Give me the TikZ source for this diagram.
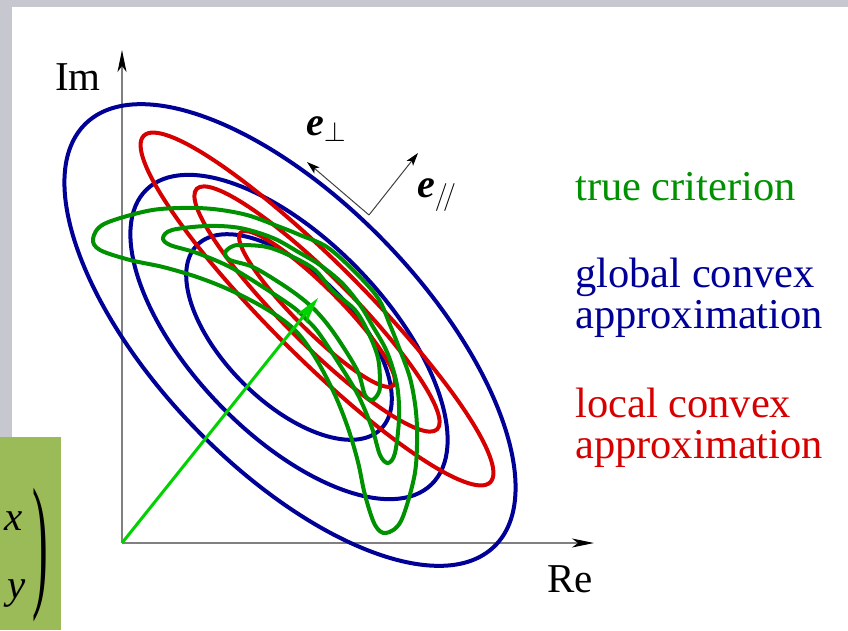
\RequirePackage{fix-cm}
\documentclass[tikz,border=0pt]{standalone}
\usepackage{graphicx}
\usepackage{fontspec}
\setmainfont{Liberation Serif}
\usetikzlibrary{arrows.meta,positioning}
\definecolor{slidegray}{RGB}{198,199,207}
\definecolor{boxgreen}{RGB}{155,187,89}
\definecolor{critgreen}{RGB}{0,145,0}
\definecolor{globblue}{RGB}{0,0,150}
\definecolor{locred}{RGB}{215,0,0}
\definecolor{vecgreen}{RGB}{0,210,0}
\tikzset{
  axis line/.style  = {draw=gray, line width=1.4pt,
                       -{Stealth[length=22pt,width=9pt,inset=6pt,black]}},
  basis arrow/.style= {draw=black!75, line width=1pt,
                       -{Stealth[length=13pt,width=8pt,inset=3pt,black]}},
  vec arrow/.style  = {draw=vecgreen, line width=3pt,
                       -{Stealth[length=26pt,width=13pt,inset=7pt]}},
  crit curve/.style = {draw=critgreen, line width=4pt},
  glob curve/.style = {draw=globblue, line width=4pt},
  loc curve/.style  = {draw=locred, line width=4pt},
  axis label/.style = {font=\fontsize{41}{41}\selectfont, inner sep=0pt},
  basis label/.style= {font=\fontsize{40}{40}\selectfont, inner sep=0pt},
  legend/.style     = {font=\fontsize{42.5}{41}\selectfont, inner sep=0pt,
                       align=left, anchor=base west},
  vec entry/.style  = {font=\fontsize{41}{41}\selectfont, inner sep=0pt},
}

\begin{document}
\begin{tikzpicture}[x=1pt,y=-1pt]
  \useasboundingbox (0,0) rectangle (848,630);

  % ---- slide background --------------------------------------------------
  \fill[slidegray] (0,0) rectangle (848,7);
  \fill[slidegray] (0,0) rectangle (12,437);
  \fill[boxgreen] (0,437) rectangle (61,630);
  \node[vec entry, anchor=base east] (vx) at (23,530) {\textit{x}};
  \node[vec entry, anchor=base east] (vy) at (26,598) {\textit{y}};
  \node[vec entry] (vparen) at (40,555) {\scalebox{1.15}[3.6]{)}};

  % ---- axes --------------------------------------------------------------
  \coordinate (O)     at (122,543);
  \coordinate (imtip) at (122,50);
  \coordinate (retip) at (594,543);
  \draw[axis line] (O) -- (imtip);
  \draw[axis line] (O) -- (retip);
  \node[axis label, anchor=base east] (imlbl) at (101,90) {Im};
  \node[axis label, anchor=base west] (relbl) at (547,592) {Re};

  % ---- global convex approximation ---------------------------------------
  \draw[glob curve] (290,335) ellipse [x radius=294, y radius=133, rotate=-46];
  \draw[glob curve] (289,337) ellipse [x radius=205, y radius=97,  rotate=-46];
  \draw[glob curve] (289,337) ellipse [x radius=130, y radius=65,  rotate=-45];

  % ---- local convex approximation ----------------------------------------
  \draw[loc curve] (317,309) ellipse [x radius=245, y radius=47, rotate=-45];
  \draw[loc curve] (317,309) ellipse [x radius=170, y radius=34, rotate=-45];
  \draw[loc curve] (317,309) ellipse [x radius=108, y radius=22, rotate=-45];

  % ---- true criterion ----------------------------------------------------
  \draw[crit curve] plot[smooth cycle, tension=0.55] coordinates {
    (104,224) (147,211) (180,208) (213,209) (247,215) (280,227) (300,235)
    (327,247) (354,271) (378,298) (390,325) (398,345) (410,378) (416,412)
    (417,445) (414,478) (401,521) (386,533) (375,525) (365,495) (358,462)
    (348,428) (335,395) (318,362) (302,338) (287,323) (263,307) (230,290)
    (197,277) (163,267) (130,260) (100,250) (93,239)};
  \draw[crit curve] plot[smooth cycle, tension=0.55] coordinates {
    (172,230) (207,226) (240,228) (273,238) (300,253) (320,265) (342,283)
    (360,305) (372,325) (387,352) (397,385) (399,418) (395,453) (388,463)
    (380,455) (372,428) (358,395) (338,362) (318,332) (306,319) (293,307)
    (263,287) (230,267) (197,253) (170,245) (163,238)};
  \draw[crit curve] plot[smooth cycle, tension=0.55] coordinates {
    (231,247) (240,245) (267,247) (293,257) (315,270) (333,291) (355,310)
    (368,332) (378,358) (380,385) (378,394) (372,400) (365,395) (358,372)
    (342,345) (328,325) (315,310) (300,297) (280,283) (253,267) (230,260)
    (225,253)};

  % ---- state vector ------------------------------------------------------
  \coordinate (vtip) at (318,298);
  \draw[vec arrow] (O) -- (vtip);

  % ---- principal directions ----------------------------------------------
  \coordinate (ebase)  at (369,215);
  \coordinate (eperp)  at (307,162);
  \coordinate (epar)   at (418,153);
  \draw[basis arrow] (ebase) -- (eperp);
  \draw[basis arrow] (ebase) -- (epar);
  \node[basis label, anchor=base west] (eperplbl) at (306,135)
    {\textbf{\textit{e}}$_{\perp}$};
  \node[basis label, anchor=base west] (eparlbl) at (417,197)
    {\textbf{\textit{e}}$_{/\!/}$};

  % ---- legend ------------------------------------------------------------
  \node[legend, text=critgreen] (critlbl) at (575,200) {true criterion};
  \node[legend, text=globblue]  (globlbl) at (575,328) {global convex\\approximation};
  \node[legend, text=locred]    (loclbl)  at (575,458) {local convex\\approximation};
\end{tikzpicture}
\end{document}
